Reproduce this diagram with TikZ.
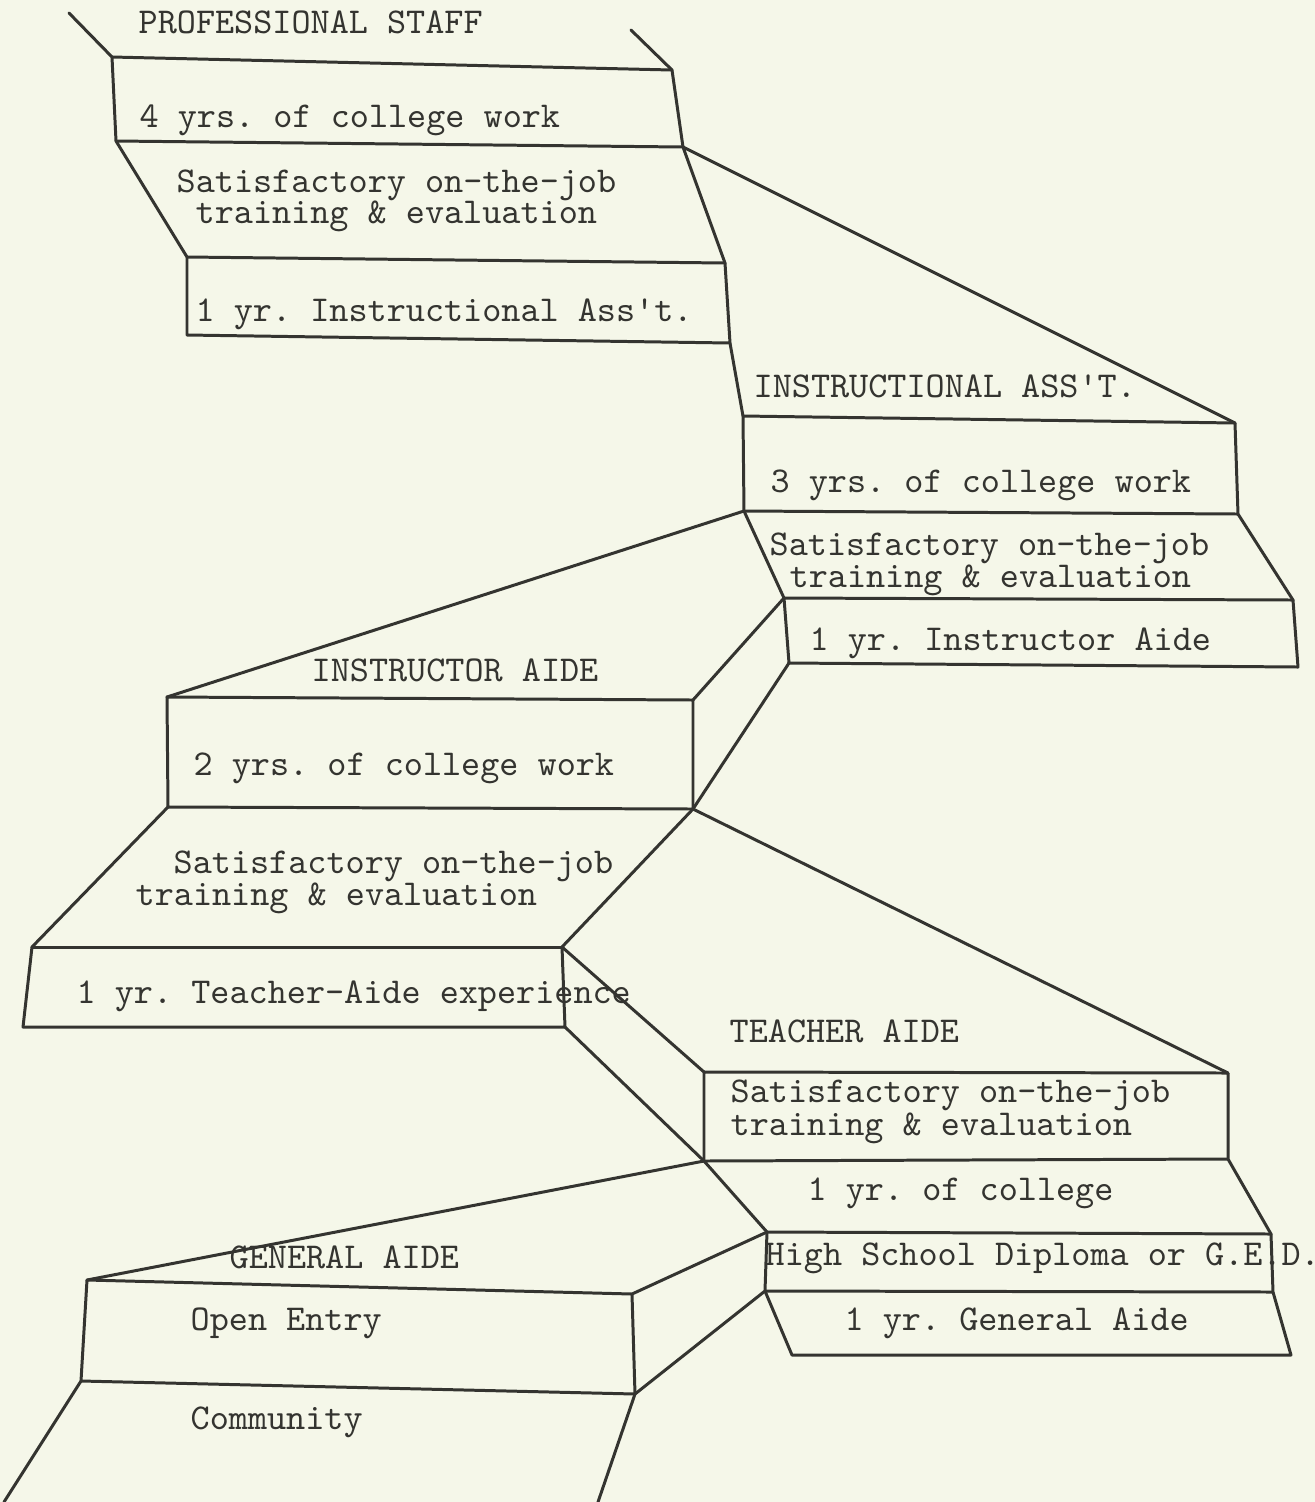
\documentclass[tikz,border=0pt]{standalone}
\usepackage{tikz}
\definecolor{paperCream}{RGB}{245, 247, 233}
\definecolor{inkGray}{RGB}{52, 52, 48}
\frenchspacing

\begin{document}
\begin{tikzpicture}[
  x=0.01cm, y=-0.01cm,
  stepline/.style={
    draw=inkGray,
    line width=0.85pt,
    line join=round,
    line cap=round
  },
  steplabel/.style={
    anchor=west,
    inner sep=0pt,
    text=inkGray,
    font={\ttfamily\fontsize{10.35pt}{12pt}\selectfont}
  }
]
  \fill[paperCream] (0,0) rectangle (1315,1502);
  \useasboundingbox (0,0) rectangle (1315,1502);

  \coordinate (psA) at (69,13);
  \coordinate (psB) at (631,30);
  \coordinate (psTL) at (112,57);
  \coordinate (psTR) at (672,70);
  \coordinate (psML) at (116,141);
  \coordinate (psMR) at (683,147);
  \coordinate (psSL) at (187,257);
  \coordinate (psSR) at (725,263);
  \coordinate (psBL) at (187,335);
  \coordinate (psBR) at (730,343);

  \coordinate (iaTL) at (743,416);
  \coordinate (iaTR) at (1235,423);
  \coordinate (iaML) at (744,511);
  \coordinate (iaMR) at (1238,514);
  \coordinate (iaSL) at (784,598);
  \coordinate (iaSR) at (1293,600);
  \coordinate (iaBL) at (789,663);
  \coordinate (iaBR) at (1298,667);

  \coordinate (aiTL) at (167,697);
  \coordinate (aiTR) at (693,700);
  \coordinate (aiBL) at (168,807);
  \coordinate (aiBR) at (693,809);
  \coordinate (xpTL) at (32,947);
  \coordinate (xpTR) at (562,947);
  \coordinate (xpBL) at (23,1027);
  \coordinate (xpBR) at (565,1027);

  \coordinate (taTL) at (704,1072);
  \coordinate (taTR) at (1228,1073);
  \coordinate (taML) at (704,1161);
  \coordinate (taMR) at (1228,1159);
  \coordinate (taSL) at (767,1232);
  \coordinate (taSR) at (1271,1234);
  \coordinate (taHL) at (765,1291);
  \coordinate (taHR) at (1273,1292);
  \coordinate (taGL) at (792,1355);
  \coordinate (taGR) at (1291,1355);

  \coordinate (gaTL) at (87,1280);
  \coordinate (gaTR) at (632,1294);
  \coordinate (gaBL) at (81,1381);
  \coordinate (gaBR) at (635,1394);
  \coordinate (cmL) at (4,1502);
  \coordinate (cmR) at (598,1502);

  \draw[stepline] (psA) -- (psTL) -- (psML) -- (psSL) -- (psBL) -- (psBR) -- (psSR) -- (psMR) -- (psTR) -- (psB);
  \draw[stepline] (psTL) -- (psTR);
  \draw[stepline] (psML) -- (psMR);
  \draw[stepline] (psSL) -- (psSR);
  \draw[stepline] (psBR) -- (iaTL);
  \draw[stepline] (psMR) -- (iaTR);

  \draw[stepline] (iaTL) -- (iaTR) -- (iaMR) -- (iaSR) -- (iaBR) -- (iaBL) -- (iaSL) -- (iaML) -- cycle;
  \draw[stepline] (iaML) -- (iaMR);
  \draw[stepline] (iaSL) -- (iaSR);

  \draw[stepline] (aiTL) -- (iaML);
  \draw[stepline] (aiTL) -- (aiTR) -- (aiBR) -- (aiBL) -- cycle;
  \draw[stepline] (aiTR) -- (iaSL);
  \draw[stepline] (aiBR) -- (iaBL);
  \draw[stepline] (aiBR) -- (taTR);
  \draw[stepline] (aiBL) -- (xpTL) -- (xpBL) -- (xpBR) -- (xpTR) -- (aiBR);
  \draw[stepline] (xpTL) -- (xpTR);

  \draw[stepline] (xpTR) -- (taTL);
  \draw[stepline] (xpBR) -- (taML);
  \draw[stepline] (taTL) -- (taTR) -- (taMR) -- (taSR) -- (taHR) -- (taGR) -- (taGL) -- (taHL) -- (taSL) -- (taML) -- cycle;
  \draw[stepline] (taML) -- (taMR);
  \draw[stepline] (taSL) -- (taSR);
  \draw[stepline] (taHL) -- (taHR);

  \draw[stepline] (taML) -- (gaTL);
  \draw[stepline] (gaTR) -- (taSL);
  \draw[stepline] (gaBR) -- (taHL);
  \draw[stepline] (cmL) -- (gaBL) -- (gaTL) -- (gaTR) -- (gaBR) -- (cmR);
  \draw[stepline] (gaBL) -- (gaBR);

  \node[steplabel] (psTitle) at (138,22) {PROFESSIONAL STAFF};
  \node[steplabel] (psWork) at (139,120) {4 yrs. of college work};
  \node[steplabel] (psSatA) at (176,185) {Satisfactory on-the-job};
  \node[steplabel] (psSatB) at (195,216) {training \& evaluation};
  \node[steplabel] (psYear) at (195,314) {1 yr. Instructional Ass\textquotesingle t.};

  \node[steplabel] (iaTitle) at (753,386) {INSTRUCTIONAL ASS\textquotesingle T.};
  \node[steplabel] (iaWork) at (770,485) {3 yrs. of college work};
  \node[steplabel] (iaSatA) at (769,548) {Satisfactory on-the-job};
  \node[steplabel] (iaSatB) at (789,580) {training \& evaluation};
  \node[steplabel] (iaYear) at (809,643) {1 yr. Instructor Aide};

  \node[steplabel] (aiTitle) at (311,670) {INSTRUCTOR AIDE};
  \node[steplabel] (aiWork) at (193,768) {2 yrs. of college work};
  \node[steplabel] (aiSatA) at (173,866) {Satisfactory on-the-job};
  \node[steplabel] (aiSatB) at (135,898) {training \& evaluation};
  \node[steplabel] (aiYear) at (76,996) {1 yr. Teacher-Aide experience};

  \node[steplabel] (taTitle) at (729,1031) {TEACHER AIDE};
  \node[steplabel] (taSatA) at (730,1095) {Satisfactory on-the-job};
  \node[steplabel] (taSatB) at (730,1128) {training \& evaluation};
  \node[steplabel] (taCollege) at (807,1193) {1 yr. of college};
  \node[steplabel] (taDiploma) at (765,1258) {High School Diploma or G.E.D.};
  \node[steplabel] (taYear) at (844,1323) {1 yr. General Aide};

  \node[steplabel] (gaTitle) at (229,1257) {GENERAL AIDE};
  \node[steplabel] (gaEntry) at (190,1323) {Open Entry};
  \node[steplabel] (gaCommunity) at (190,1422) {Community};
\end{tikzpicture}
\end{document}
